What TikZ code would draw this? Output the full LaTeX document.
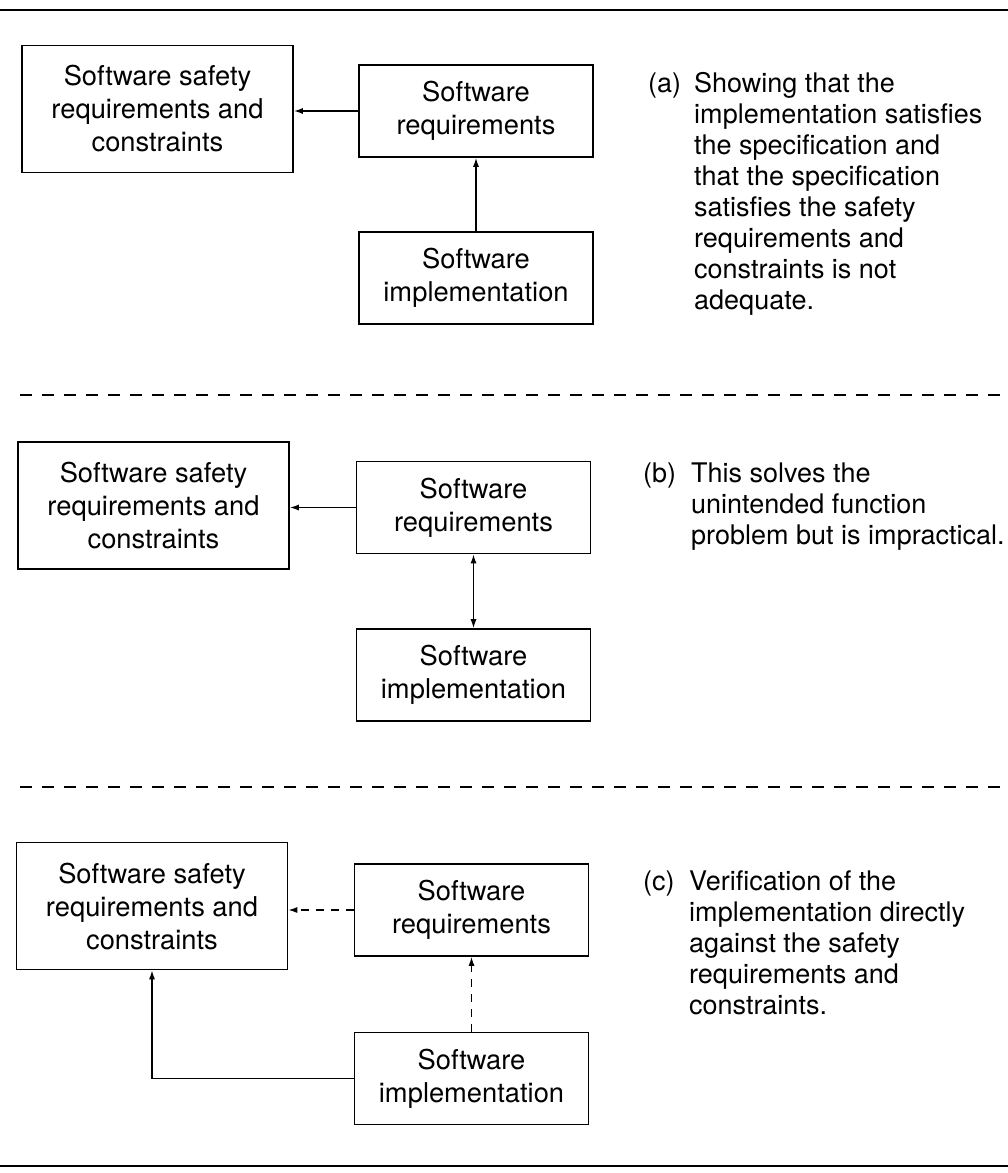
\documentclass[tikz,border=0pt]{standalone}
\usepackage{fontspec}
\setmainfont{TeX Gyre Heros}
\usetikzlibrary{arrows.meta}
\begin{document}
\begin{tikzpicture}[x=1pt,y=-1pt,
  box/.style={draw, line width=1.6pt, align=center, inner sep=0pt, font=\fontsize{27.3}{33}\selectfont},
  safebox/.style={box, minimum width=271pt, minimum height=127pt},
  swbox/.style={box, minimum width=234pt, minimum height=92pt},
  conn/.style={line width=1.4pt, -{Latex[length=9pt,width=6pt]}},
  dconn/.style={conn, dash pattern=on 8pt off 7pt},
  dbl/.style={line width=1.4pt, {Latex[length=9pt,width=6pt]}-{Latex[length=9pt,width=6pt]}},
  lbl/.style={anchor=base west, inner sep=0pt, font=\fontsize{27}{31}\selectfont},
  note/.style={anchor=base west, inner sep=0pt, font=\fontsize{27}{31}\selectfont, align=left},
  rulebar/.style={line width=2.4pt},
  sepline/.style={line width=2pt, dash pattern=on 12pt off 10pt}]
\useasboundingbox (0,0) rectangle (1008,1173);

% frame lines
\coordinate (tl) at (0,10);   \coordinate (tr) at (1008,10);
\coordinate (bl) at (0,1166); \coordinate (br) at (1008,1166);
\coordinate (d1l) at (20,395); \coordinate (d1r) at (1008,395);
\coordinate (d2l) at (20,787); \coordinate (d2r) at (1008,787);
\draw[rulebar] (tl) -- (tr);
\draw[rulebar] (bl) -- (br);
\draw[sepline] (d1l) -- (d1r);
\draw[sepline] (d2l) -- (d2r);

% panel (a)
\node[safebox] (S1) at (157.5,109) {Software safety\\requirements and\\constraints};
\node[swbox] (R1) at (476,111) {Software\\requirements};
\node[swbox] (I1) at (476,278) {Software\\implementation};
\draw[conn] (R1.west) -- (R1.west -| S1.east);
\draw[conn] (I1.north) -- (R1.south);
\node[lbl] (La) at (648,92) {(a)};
% multi-line note: base anchor is the last line's baseline (first baseline 92, 8 lines, 31pt apart)
\node[note] (Ta) at (694,309) {Showing that the\\implementation satisfies\\the specification and\\that the specification\\satisfies the safety\\requirements and\\constraints is not\\adequate.};

% panel (b)
\node[safebox] (S2) at (153.5,505.5) {Software safety\\requirements and\\constraints};
\node[swbox] (R2) at (473.5,507.5) {Software\\requirements};
\node[swbox] (I2) at (473.5,675) {Software\\implementation};
\draw[conn] (R2.west) -- (R2.west -| S2.east);
\draw[dbl] (I2.north) -- (R2.south);
\node[lbl] (Lb) at (643,482) {(b)};
\node[note] (Tb) at (691,544) {This solves the\\unintended function\\problem but is impractical.};

% panel (c)
\node[safebox] (S3) at (152,906) {Software safety\\requirements and\\constraints};
\node[swbox] (R3) at (471.5,910) {Software\\requirements};
\node[swbox] (I3) at (471.5,1078.5) {Software\\implementation};
\draw[dconn] (R3.west) -- (R3.west -| S3.east);
\draw[dconn] (I3.north) -- (R3.south);
\coordinate (corner) at (152,1078.5);
\draw[conn] (I3.west) -- (corner) -- (S3.south);
\node[lbl] (Lc) at (643,890) {(c)};
\node[note] (Tc) at (689,1014) {Verification of the\\implementation directly\\against the safety\\requirements and\\constraints.};
\end{tikzpicture}
\end{document}
